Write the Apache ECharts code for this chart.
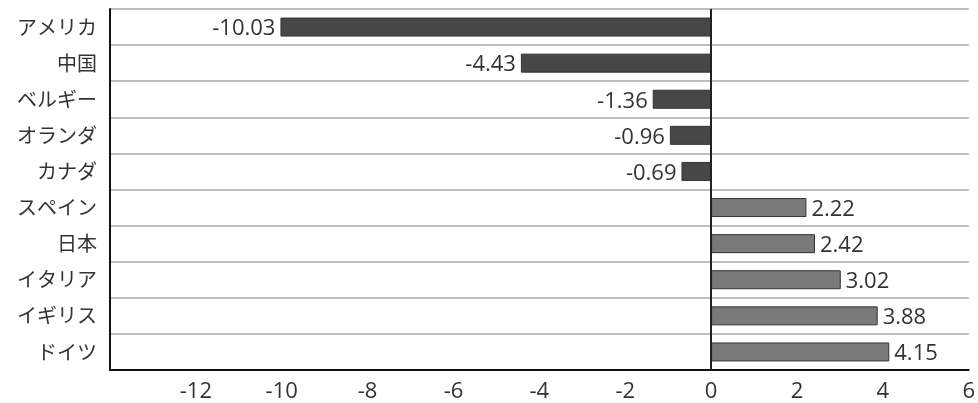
<!DOCTYPE html>
<html>
<head>
<meta charset="utf-8">
<style>
  html, body { margin: 0; padding: 0; background: #fff; }
  #chart { width: 978px; height: 403px; }
</style>
<script src="https://cdn.jsdelivr.net/npm/echarts@6/dist/echarts.min.js"></script>
</head>
<body>
<div id="chart"></div>
<script>
// Countries, top to bottom
const countries = ['アメリカ', '中国', 'ベルギー', 'オランダ', 'カナダ', 'スペイン', '日本', 'イタリア', 'イギリス', 'ドイツ'];
// Value per country
const values = [-10.03, -4.43, -1.36, -0.96, -0.69, 2.22, 2.42, 3.02, 3.88, 4.15];
// Value axis range and step
const axisMin = -14;
const axisMax = 6;
const axisStep = 2;

const CJK_FONT = '"Noto Sans CJK JP", "Noto Sans", sans-serif';
const NUM_FONT = '"Open Sans", "Noto Sans", sans-serif';
const NEG_COLOR = '#474747';
const POS_COLOR = '#7a7a7a';

const chart = echarts.init(document.getElementById('chart'));

chart.setOption({
  animation: false,
  grid: { left: 110, right: 8, top: 9, bottom: 29, containLabel: false },
  xAxis: {
    type: 'value',
    min: axisMin,
    max: axisMax,
    interval: axisStep,
    axisLine: { show: true, lineStyle: { color: '#111', width: 2 } },
    axisTick: { show: false },
    splitLine: { show: false },
    axisLabel: {
      fontFamily: NUM_FONT,
      fontSize: 22,
      color: '#333',
      margin: 11,
      formatter: v => (v === axisMin ? '' : String(v))
    }
  },
  yAxis: {
    type: 'category',
    data: countries,
    inverse: true,
    axisLine: { show: true, onZero: false, lineStyle: { color: '#111', width: 2 } },
    axisTick: { show: false },
    splitLine: { show: true, lineStyle: { color: '#bdbdbd', width: 2 } },
    axisLabel: {
      fontFamily: CJK_FONT,
      fontSize: 20,
      color: '#333',
      margin: 13
    }
  },
  series: [{
    type: 'bar',
    barWidth: 19,
    data: values.map(v => ({
      value: v,
      itemStyle: {
        color: v < 0 ? NEG_COLOR : POS_COLOR,
        borderColor: '#333',
        borderWidth: 1
      },
      label: {
        show: true,
        position: v < 0 ? 'left' : 'right',
        distance: 5,
        offset: [0, 2],
        formatter: v.toFixed(2),
        fontFamily: NUM_FONT,
        fontSize: 22,
        color: '#333'
      }
    })),
    markLine: {
      silent: true,
      symbol: 'none',
      label: { show: false },
      lineStyle: { color: '#222', width: 2, type: 'solid' },
      data: [{ xAxis: 0 }]
    }
  }]
});
</script>
</body>
</html>
